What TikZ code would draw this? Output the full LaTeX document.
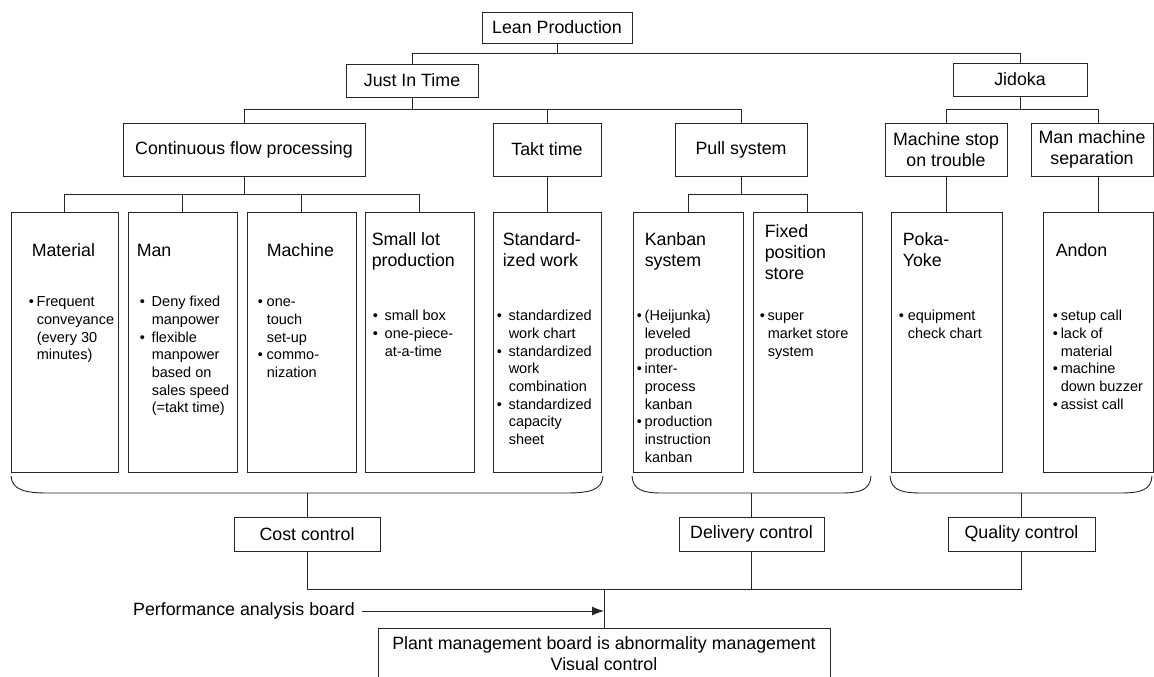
\documentclass[tikz,border=0pt]{standalone}
\usepackage{fontspec}
\setmainfont{Liberation Sans}
\usetikzlibrary{arrows.meta,calc}

% text sizes: headings and bullet lists
\newcommand\hdfont{\fontsize{17.8}{21}\selectfont}
\newcommand\bltfont{\fontsize{14.5}{17.7}\selectfont}
% bullet item and its continuation line (optional arg = gap after the bullet)
\newcommand\blt[2][10]{\strut\makebox[#1pt][l]{•}#2}
\newcommand\bcont[2][10]{\strut\hspace*{#1pt}#2}

\begin{document}
\begin{tikzpicture}[x=1pt,y=-1pt,
  wire/.style={draw=black!85, line width=0.9pt},
  hbox/.style={draw=black!85, line width=0.9pt, inner sep=0pt, align=center, font=\hdfont},
  col/.style={draw=black!85, line width=0.9pt, inner sep=0pt, minimum height=260pt},
  ttl/.style={anchor=north west, inner sep=0pt, align=left, font=\hdfont},
  blist/.style={anchor=north west, inner sep=0pt, align=left, font=\bltfont},
]
\fill[white] (0,0) rectangle (1154,677);
\useasboundingbox (0,0) rectangle (1154,677);

% ---------- upper levels ----------
\node[hbox, minimum width=150, minimum height=31] (lean) at (557,27.5) {Lean Production};
\node[hbox, minimum width=132, minimum height=33] (jit) at (412,80.5) {Just In Time};
\node[hbox, minimum width=134, minimum height=33] (jid) at (1020,79.5) {Jidoka};

\node[hbox, minimum width=242, minimum height=53] (cfp) at (244,149.5) {Continuous flow processing};
\node[hbox, minimum width=108, minimum height=53] (takt) at (547,149.5) {Takt time};
\node[hbox, minimum width=132, minimum height=53] (pull) at (741,149.5) {Pull system};
\node[hbox, minimum width=122, minimum height=53] (mst) at (946,149.5) {Machine stop\\on trouble};
\node[hbox, minimum width=122, minimum height=53] (mms) at (1092,149.5) {Man machine\\separation};

% ---------- columns ----------
\node[col, minimum width=107] (mat) at (64.5,342) {};
\node[col, minimum width=109] (man) at (182.5,342) {};
\node[col, minimum width=109] (mac) at (301.5,342) {};
\node[col, minimum width=109] (slp) at (419.5,342) {};
\node[col, minimum width=108] (std) at (547,342) {};
\node[col, minimum width=110] (kan) at (688,342) {};
\node[col, minimum width=109] (fix) at (807.5,342) {};
\node[col, minimum width=111] (pok) at (946.5,342) {};
\node[col, minimum width=110] (and) at (1098,342) {};

% column titles
\node[ttl] at ($(mat.north west)+(21,29.8)$) {\strut Material};
\node[ttl] at ($(man.north west)+(9,29.8)$) {\strut Man};
\node[ttl] at ($(mac.north west)+(20,29.8)$) {\strut Machine};
\node[ttl] at ($(slp.north west)+(7,18.8)$) {\strut Small lot\\production};
\node[ttl] at ($(std.north west)+(10,18.8)$) {\strut Standard-\\ized work};
\node[ttl] at ($(kan.north west)+(12,18.8)$) {\strut Kanban\\system};
\node[ttl] at ($(fix.north west)+(12,10.8)$) {\strut Fixed\\position\\store};
\node[ttl] at ($(pok.north west)+(12,18.8)$) {\strut Poka-\\Yoke};
\node[ttl] at ($(and.north west)+(13,29.8)$) {\strut Andon};

% column bullet lists
\node[blist] at ($(mat.north west)+(18,82.6)$)
  {\blt[8]{Frequent}\\\bcont[8]{conveyance}\\\bcont[8]{(every 30}\\\bcont[8]{minutes)}};
\node[blist] at ($(man.north west)+(12,82.6)$)
  {\blt[12]{Deny fixed}\\\bcont[12]{manpower}\\\blt[12]{flexible}\\\bcont[12]{manpower}\\\bcont[12]{based on}\\\bcont[12]{sales speed}\\\bcont[12]{(=takt time)}};
\node[blist] at ($(mac.north west)+(11,82.6)$)
  {\blt[9]{one-}\\\bcont[9]{touch}\\\bcont[9]{set-up}\\\blt[9]{commo-}\\\bcont[9]{nization}};
\node[blist] at ($(slp.north west)+(8,96.6)$)
  {\blt[12]{small box}\\\blt[12]{one-piece-}\\\bcont[12]{at-a-time}};
\node[blist] at ($(std.north west)+(4,96.6)$)
  {\blt[12]{standardized}\\\bcont[12]{work chart}\\\blt[12]{standardized}\\\bcont[12]{work}\\\bcont[12]{combination}\\\blt[12]{standardized}\\\bcont[12]{capacity}\\\bcont[12]{sheet}};
\node[blist] at ($(kan.north west)+(4,96.6)$)
  {\blt[8]{(Heijunka)}\\\bcont[8]{leveled}\\\bcont[8]{production}\\\blt[8]{inter-}\\\bcont[8]{process}\\\bcont[8]{kanban}\\\blt[8]{production}\\\bcont[8]{instruction}\\\bcont[8]{kanban}};
\node[blist] at ($(fix.north west)+(7,96.6)$)
  {\blt[8]{super}\\\bcont[8]{market store}\\\bcont[8]{system}};
\node[blist] at ($(pok.north west)+(8,96.6)$)
  {\blt[9]{equipment}\\\bcont[9]{check chart}};
\node[blist] at ($(and.north west)+(10,96.6)$)
  {\blt[8]{setup call}\\\blt[8]{lack of}\\\bcont[8]{material}\\\blt[8]{machine}\\\bcont[8]{down buzzer}\\\blt[8]{assist call}};

% ---------- control level ----------
\node[hbox, minimum width=146, minimum height=34] (cost) at (307,534) {Cost control};
\node[hbox, minimum width=145, minimum height=34] (dlv) at (751.5,534) {Delivery control};
\node[hbox, minimum width=147, minimum height=34] (qual) at (1021.5,534) {Quality control};

\node[hbox, minimum width=452, minimum height=51] (plant) at (604,653.5)
  {Plant management board is abnormality management\\Visual control};
\node[inner sep=0pt, font=\hdfont] (pab) at (244,611) {Performance analysis board};

% ---------- tree connectors ----------
\coordinate (busA) at (0,53);
\coordinate (busB) at (0,109);
\coordinate (busC) at (0,194);
\coordinate (junc) at (604,589);

\draw[wire] (lean.south) -- (lean.south |- busA);
\draw[wire] (jit.north) -- (jit.north |- busA) -| (jid.north);

\draw[wire] (jit.south) -- (jit.south |- busB);
\draw[wire] (cfp.north) -- (cfp.north |- busB) -| (pull.north);
\draw[wire] (takt.north) -- (takt.north |- busB);

\draw[wire] (jid.south) -- (jid.south |- busB);
\draw[wire] (mst.north) -- (mst.north |- busB) -- (busB -| and.north) -- (and.north |- mms.north);

\draw[wire] (cfp.south) -- (cfp.south |- busC);
\draw[wire] (mat.north) -- (mat.north |- busC) -| (slp.north);
\draw[wire] (man.north) -- (man.north |- busC);
\draw[wire] (mac.north) -- (mac.north |- busC);
\draw[wire] (takt.south) -- (std.north);
\draw[wire] (pull.south) -- (pull.south |- busC);
\draw[wire] (kan.north) -- (kan.north |- busC) -| (fix.north);
\draw[wire] (mst.south) -- (mst.south -| pok.north) -- (pok.north);
\draw[wire] (and.north |- mms.south) -- (and.north);

% ---------- group brackets ----------
\draw[wire] (11,476) .. controls (12,490) and (25,493) .. (48,493) -- (566,493)
  .. controls (590,493) and (602,490) .. (603,476);
\draw[wire] (632,476) .. controls (633,490) and (643,493) .. (662,493) -- (841,493)
  .. controls (860,493) and (870,490) .. (871,476);
\draw[wire] (890,476) .. controls (891,490) and (901,493) .. (922,493) -- (1120,493)
  .. controls (1141,493) and (1151,490) .. (1152,476);
\coordinate (gcost) at (307,493);
\coordinate (gdlv) at (751.5,493);
\coordinate (gqual) at (1021.5,493);

\draw[wire] (gcost) -- (cost.north);
\draw[wire] (gdlv) -- (dlv.north);
\draw[wire] (gqual) -- (qual.north);

% ---------- to the plant board ----------
\draw[wire] (cost.south) |- (junc);
\draw[wire] (dlv.south) |- (junc);
\draw[wire] (qual.south) |- (junc);
\draw[wire] (junc) -- (plant.north);
\draw[wire, -{Latex[length=12pt,width=9pt]}] ([xshift=7pt]pab.east) -- (pab.east -| plant.north);
\end{tikzpicture}
\end{document}
